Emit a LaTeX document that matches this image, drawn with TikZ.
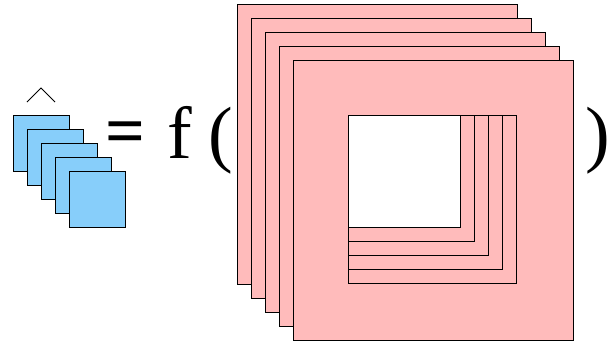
\documentclass[tikz,border=0pt]{standalone}
\usepackage{fontspec}
\setmainfont{Liberation Serif}
\definecolor{pinkfill}{RGB}{255,187,187}
\definecolor{bluefill}{RGB}{135,206,250}
\begin{document}
\begin{tikzpicture}[x=1pt,y=-1pt,
  pinksq/.style={draw=black,fill=pinkfill,line width=1pt},
  bluesq/.style={draw=black,fill=bluefill,line width=1pt},
  holeline/.style={draw=black,line width=1pt},
  bigtext/.style={inner sep=0pt,font=\fontsize{74}{80}\selectfont}]
\useasboundingbox (0,0) rectangle (616,346);
% blue stack
\foreach \i in {0,...,4}{
  \draw[bluesq] ({13.3+14*\i},{115+14*\i}) rectangle ++(56,56);
}
% hat
\coordinate (hl) at (27,102);
\coordinate (ht) at (41,88);
\coordinate (hr) at (55,102);
\draw[line width=1pt] (hl) -- (ht) -- (hr);
% text
\node[bigtext,font=\fontsize{70}{80}\selectfont\bfseries] (eq) at (125,138) {=};
\node[bigtext,anchor=base] (f) at (179.5,158) {f};
\node[bigtext,anchor=base] (lp) at (220.5,158) {(};
\node[bigtext,anchor=base] (rp) at (598,158) {)};
% pink stack
\foreach \i in {0,...,4}{
  \draw[pinksq] ({237+14*\i},{4+14*\i}) rectangle ++(280,280);
}
\fill[white] (348.7,115.3) rectangle (460.3,227);
\foreach \i in {4,3,2,1,0}{
  \draw[holeline] (348.7,115.3) rectangle ({460.3+14*\i},{227+14*\i});
}
\end{tikzpicture}
\end{document}
